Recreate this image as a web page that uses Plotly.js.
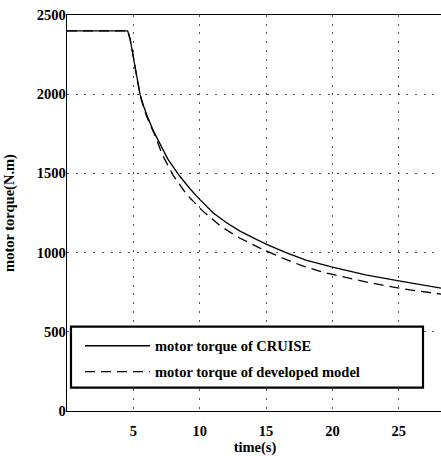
<!DOCTYPE html>
<html><head><meta charset="utf-8">
<script src="https://cdn.plot.ly/plotly-3.0.1.min.js"></script>
<style>html,body{margin:0;padding:0;overflow:hidden;background:#fff;}</style>
</head><body><div id="chart" style="width:443px;height:456px;"></div>
<script>
// CRUISE reference curve
const timeCruise = [0, 4.57, 4.75, 5.0, 5.25, 5.5, 5.75, 6.0, 6.5, 7.0, 7.6, 8.5, 9.3, 10.0, 11.0, 12.0, 13.0, 14.0, 15.0, 16.5, 18.0, 20.0, 22.5, 25.0, 28.4];
const torqueCruise = [2400, 2400, 2350, 2235, 2110, 2000, 1930, 1872, 1770, 1688, 1590, 1482, 1400, 1336, 1252, 1190, 1137, 1095, 1054, 1000, 952, 908, 860, 822, 773];
// developed model curve
const timeModel = [0, 4.6, 4.85, 5.05, 5.3, 5.6, 6.0, 6.6, 7.2, 8.0, 9.0, 10.2, 11.6, 13.0, 14.5, 16.2, 17.8, 19.4, 21.2, 22.8, 24.6, 26.2, 28.4];
const torqueModel = [2400, 2400, 2310, 2205, 2085, 1965, 1860, 1745, 1615, 1488, 1368, 1265, 1165, 1092, 1030, 967, 914, 874, 838, 810, 782, 760, 736];
const seriesNames = ['motor torque of CRUISE', 'motor torque of developed model'];
const xTickVals = [5, 10, 15, 20, 25];
const xTickText = ['5', '10', '15', '20', '25'];
const yTickVals = [0, 500, 1000, 1500, 2000, 2500];
const yTickText = ['0', '500', '1000', '1500', '2000', '2500'];
const xTitle = 'time(s)';
const yTitle = 'motor torque(N.m)';

const FONT = 'Liberation Serif';
const traces = [
  {x: timeCruise, y: torqueCruise, name: seriesNames[0], mode: 'lines', legendgroup: 'a',
   line: {color: '#000', width: 1.3}},
  {x: timeModel, y: torqueModel, name: seriesNames[1], mode: 'lines', legendgroup: 'b',
   line: {color: '#000', width: 1.3, dash: '10px,6px'}}
];
const gridDash = '2px,6.7px';
const fnt = {family: FONT, size: 14.5, weight: 'bold', color: '#000'};
const layout = {
  width: 443, height: 456,
  margin: {l: 67, r: 0, t: 15, b: 45},
  paper_bgcolor: '#fff', plot_bgcolor: '#fff',
  font: fnt,
  showlegend: true,
  xaxis: {
    range: [0, 28.33], tickvals: xTickVals, ticktext: xTickText,
    showgrid: true, gridcolor: '#555', gridwidth: 1, griddash: gridDash,
    zeroline: false, showline: true, linecolor: '#000', linewidth: 1.3, mirror: true,
    ticks: '', ticklabelstandoff: 6, tickfont: fnt,
    title: {text: xTitle, font: fnt, standoff: 8}
  },
  yaxis: {
    range: [0, 2500], tickvals: yTickVals, ticktext: yTickText,
    showgrid: true, gridcolor: '#555', gridwidth: 1, griddash: gridDash,
    zeroline: false, showline: true, linecolor: '#000', linewidth: 1.3, mirror: true,
    ticks: '', ticklabelstandoff: -3, tickfont: fnt,
    title: {text: yTitle, font: fnt, standoff: 18}
  },
  legend: {
    x: 0.0346, y: 0.205, xanchor: 'left', yanchor: 'top',
    bgcolor: 'rgba(0,0,0,0)', borderwidth: 0, itemwidth: 65, tracegroupgap: 4,
    font: fnt
  },
  shapes: [{
    type: 'rect', xref: 'paper', yref: 'paper', layer: 'above',
    x0: 0.0106, x1: 0.9468, y0: 0.0588, y1: 0.2129,
    fillcolor: '#fff', line: {color: '#000', width: 2.2}
  }]
};
Plotly.newPlot('chart', traces, layout, {staticPlot: true, displayModeBar: false});
</script></body></html>
